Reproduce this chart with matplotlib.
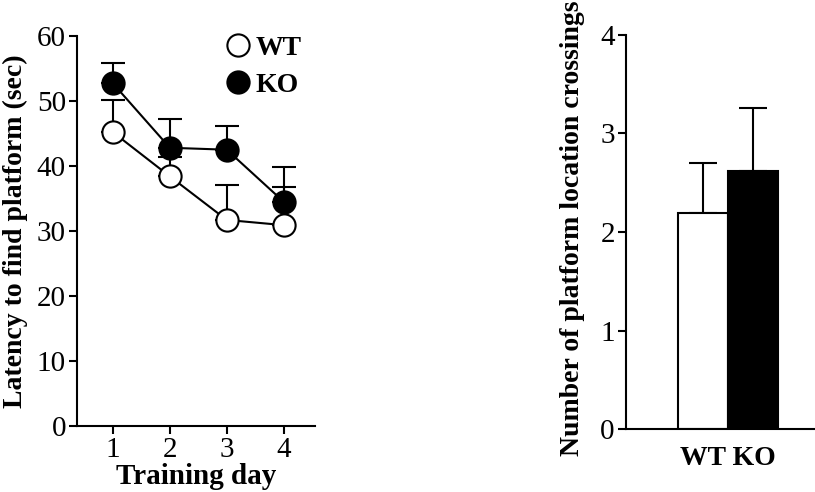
import matplotlib
matplotlib.use('Agg')
import matplotlib.pyplot as plt
from matplotlib.lines import Line2D

plt.rcParams['font.family'] = ['Liberation Serif', 'DejaVu Serif']

# Water maze acquisition: escape latency per training day
days = [1, 2, 3, 4]
wt_latency = [45.2, 38.4, 31.7, 30.9]
wt_sem = [4.9, 3.0, 5.3, 5.8]
ko_latency = [52.7, 42.8, 42.5, 34.5]
ko_sem = [3.1, 4.4, 3.7, 5.3]

# Probe trial: platform location crossings
groups = ['WT', 'KO']
crossings = [2.19, 2.62]
crossings_sem = [0.51, 0.64]

fig = plt.figure(figsize=(8.15, 4.92), dpi=100)

# --- latency panel ---
ax1 = fig.add_axes([0.0945, 0.134, 0.292, 0.793])
lw = 1.5
ms = 16
ax1.errorbar(days, ko_latency, yerr=[[0] * 4, ko_sem], fmt='none', ecolor='black',
             elinewidth=lw, capsize=8.5, capthick=lw, zorder=1)
ax1.errorbar(days, wt_latency, yerr=[[0] * 4, wt_sem], fmt='none', ecolor='black',
             elinewidth=lw, capsize=8.5, capthick=lw, zorder=1)
ax1.plot(days, wt_latency, color='black', lw=lw, marker='o', ms=ms,
         mfc='white', mec='black', mew=1.5, zorder=3)
ax1.plot(days, ko_latency, color='black', lw=lw, marker='o', ms=ms,
         mfc='black', mec='black', mew=1.5, zorder=4)

ax1.set_xlim(0.37, 4.55)
ax1.set_ylim(0, 60)
ax1.set_xticks(days)
ax1.set_yticks(range(0, 61, 10))
for s in ['top', 'right']:
    ax1.spines[s].set_visible(False)
for s in ['left', 'bottom']:
    ax1.spines[s].set_linewidth(1.5)
ax1.tick_params(direction='out', length=6, width=1.5, labelsize=21, pad=2)
ax1.set_xlabel('Training day', fontsize=21, fontweight='bold', labelpad=0)
ax1.set_ylabel('Latency to find platform (sec)', fontsize=20, fontweight='bold', labelpad=6)

handles = [
    Line2D([], [], ls='none', marker='o', ms=ms, mfc='white', mec='black', mew=1.5),
    Line2D([], [], ls='none', marker='o', ms=ms, mfc='black', mec='black', mew=1.5),
]
ax1.legend(handles, ['WT', 'KO'], loc='upper left', bbox_to_anchor=(0.5, 1.065),
           frameon=False, handletextpad=0.05, labelspacing=0.4, handlelength=1.2,
           prop={'size': 20, 'weight': 'bold'})

# --- crossings panel ---
ax2 = fig.add_axes([0.768, 0.128, 0.232, 0.801])
xpos = [0, 1]
ax2.bar(xpos, crossings, width=1.0, color=['white', 'black'], edgecolor='black',
        linewidth=1.5, zorder=2)
ax2.errorbar(xpos, crossings, yerr=[[0, 0], crossings_sem], fmt='none', ecolor='black',
             elinewidth=lw, capsize=10, capthick=lw, zorder=1)
ax2.set_xlim(-1.54, 2.25)
ax2.set_ylim(0, 4)
ax2.set_yticks(range(0, 5))
ax2.set_xticks([0.5])
ax2.set_xticklabels([' '.join(groups)], fontsize=20, fontweight='bold')
ax2.tick_params(axis='x', length=0, pad=12)
ax2.tick_params(axis='y', direction='out', length=6, width=1.5, labelsize=21, pad=2)
for s in ['top', 'right']:
    ax2.spines[s].set_visible(False)
for s in ['left', 'bottom']:
    ax2.spines[s].set_linewidth(1.5)
ax2.set_ylabel('Number of platform location crossings', fontsize=20, fontweight='bold')
ax2.yaxis.set_label_coords(-0.215, 0.51)

fig.savefig('out.png', dpi=100)
